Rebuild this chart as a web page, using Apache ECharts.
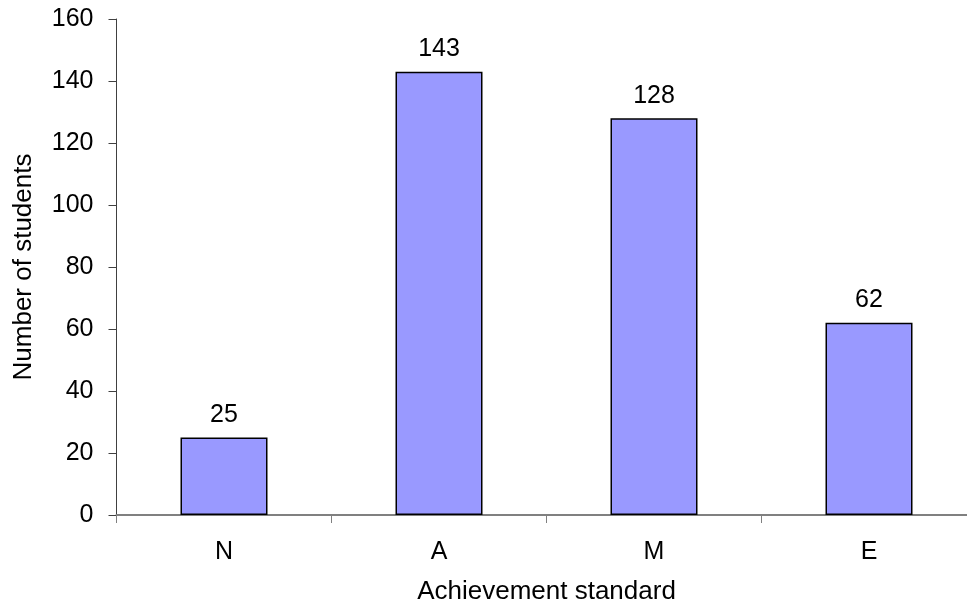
<!DOCTYPE html>
<html>
<head>
<meta charset="utf-8">
<script src="https://cdn.jsdelivr.net/npm/echarts@6/dist/echarts.min.js"></script>
<style>
  html, body { margin: 0; padding: 0; background: #ffffff; overflow: hidden; }
  #chart { width: 967px; height: 603px; }
</style>
</head>
<body>
<div id="chart"></div>
<script>
// Students per achievement standard
const categories = ['N', 'A', 'M', 'E'];
const students = [25, 143, 128, 62];
const yMin = 0;
const yMax = 160;
const yStep = 20;

const font = '"Liberation Sans", Arial, sans-serif';
const chart = echarts.init(document.getElementById('chart'), null, { renderer: 'canvas' });

chart.setOption({
  animation: false,
  backgroundColor: '#ffffff',
  grid: {
    left: 116.5, width: 860, top: 19, height: 496,
    containLabel: false,
    outerBoundsMode: 'none'
  },
  xAxis: {
    type: 'category',
    data: categories,
    name: 'Achievement standard',
    nameLocation: 'middle',
    nameGap: 64,
    nameTextStyle: { fontFamily: font, fontSize: 26, color: '#000' },
    axisLine: { show: true, lineStyle: { color: '#808080', width: 2 } },
    axisTick: { show: true, alignWithLabel: false, length: 8, lineStyle: { color: '#808080', width: 1 } },
    axisLabel: { fontFamily: font, fontSize: 25, color: '#000', margin: 25 },
    splitLine: { show: false }
  },
  yAxis: {
    type: 'value',
    min: yMin,
    max: yMax,
    interval: yStep,
    name: 'Number of students',
    nameLocation: 'middle',
    nameGap: 80,
    nameTextStyle: { fontFamily: font, fontSize: 26, color: '#000' },
    axisLine: { show: true, lineStyle: { color: '#404040', width: 1 } },
    axisTick: { show: true, length: 8, lineStyle: { color: '#404040', width: 1 } },
    axisLabel: { fontFamily: font, fontSize: 25, color: '#000', margin: 23 },
    splitLine: { show: false }
  },
  series: [{
    type: 'bar',
    data: students,
    barWidth: 87,
    itemStyle: { color: '#9999ff', borderColor: '#000000', borderWidth: 1.5 },
    label: {
      show: true,
      position: 'top',
      distance: 10,
      fontFamily: font,
      fontSize: 25,
      color: '#000'
    }
  }]
});
</script>
</body>
</html>
